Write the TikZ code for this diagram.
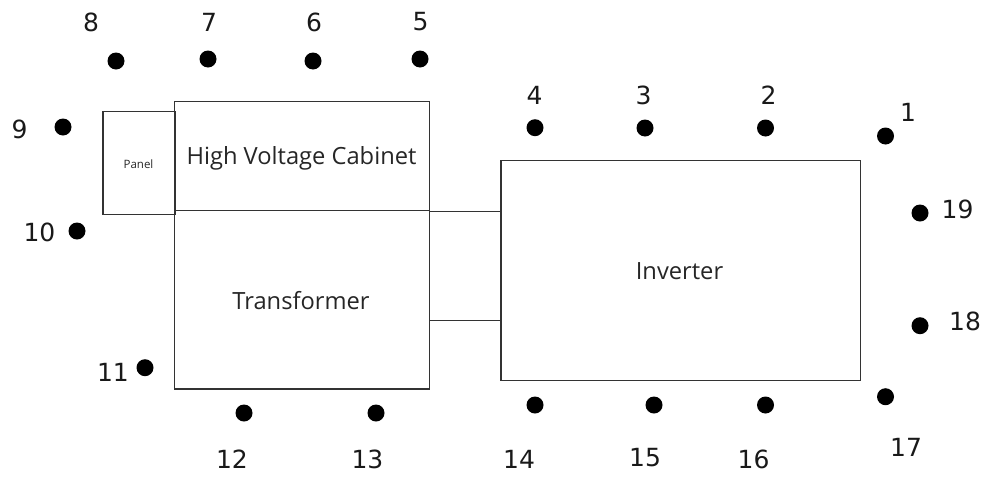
\documentclass[tikz,border=0pt]{standalone}
\usepackage{fontspec}
\newfontfamily\boxfont{Open Sans}
\newfontfamily\numfont{DejaVu Sans}
\begin{document}
\begin{tikzpicture}[x=1pt,y=-1pt,
  box/.style={draw=black!80,line width=1.1pt,inner sep=0pt},
  link/.style={draw=black!80,line width=1.1pt},
  dot/.style={circle,fill=black,inner sep=0pt,minimum size=17pt},
  num/.style={font=\numfont\fontsize{25}{25}\selectfont,inner sep=0pt,text=black!90},
  btxt/.style={font=\boxfont\fontsize{23.7}{24}\selectfont,inner sep=0pt,anchor=base,text=black!85}]
\useasboundingbox (0,0) rectangle (985,477);
% boxes
\node[box,minimum width=72pt,minimum height=103pt] (panel) at (139,163) {};
\node[box,minimum width=255pt,minimum height=109pt] (hvc) at (302,156.2) {};
\node[box,minimum width=255pt,minimum height=178.3pt] (trans) at (302,299.85) {};
\node[box,minimum width=359.3pt,minimum height=220pt] (inv) at (680.65,270.3) {};
% texts
\node[font=\boxfont\fontsize{11.5}{12}\selectfont,inner sep=0pt,anchor=base,text=black!85] (tpanel) at (138.5,168.3) {Panel};
\node[btxt] (thvc) at (301.5,164) {High Voltage Cabinet};
\node[btxt] (ttrans) at (301,309.3) {Transformer};
\node[btxt] (tinv) at (679.5,279) {Inverter};
% connectors
\draw[link] (hvc.south east) -- (hvc.south east -| inv.west);
\coordinate (c2) at (429.5,320.3);
\draw[link] (c2 -| trans.east) -- (c2 -| inv.west);
% dots
\foreach \n/\x/\y in {1/885.5/136,2/765.5/128,3/645/128,4/535/127.7,5/420/59,6/313/61,7/208/59,8/116/61,9/63/127,10/77/231,11/145/367.7,12/244/413,13/376/413,14/535/405,15/654/405,16/765.5/405,17/885.5/396.7,18/920/325.7,19/920/213}
  \node[dot] (d\n) at (\x,\y) {};
% labels
\foreach \n/\x/\y in {1/908/112,2/768.5/95.5,3/643.5/95.5,4/534.5/95.5,5/420.5/22,6/314/22,7/209/22,8/91/22,9/19.5/129,10/39.5/232.5,11/113/372,12/232/459.5,13/367.5/459.5,14/519/459,15/645/457.5,16/753.5/459.5,17/906/447,18/965/321,19/957.5/209}
  \node[num] (l\n) at (\x,\y) {\n};
\end{tikzpicture}
\end{document}
